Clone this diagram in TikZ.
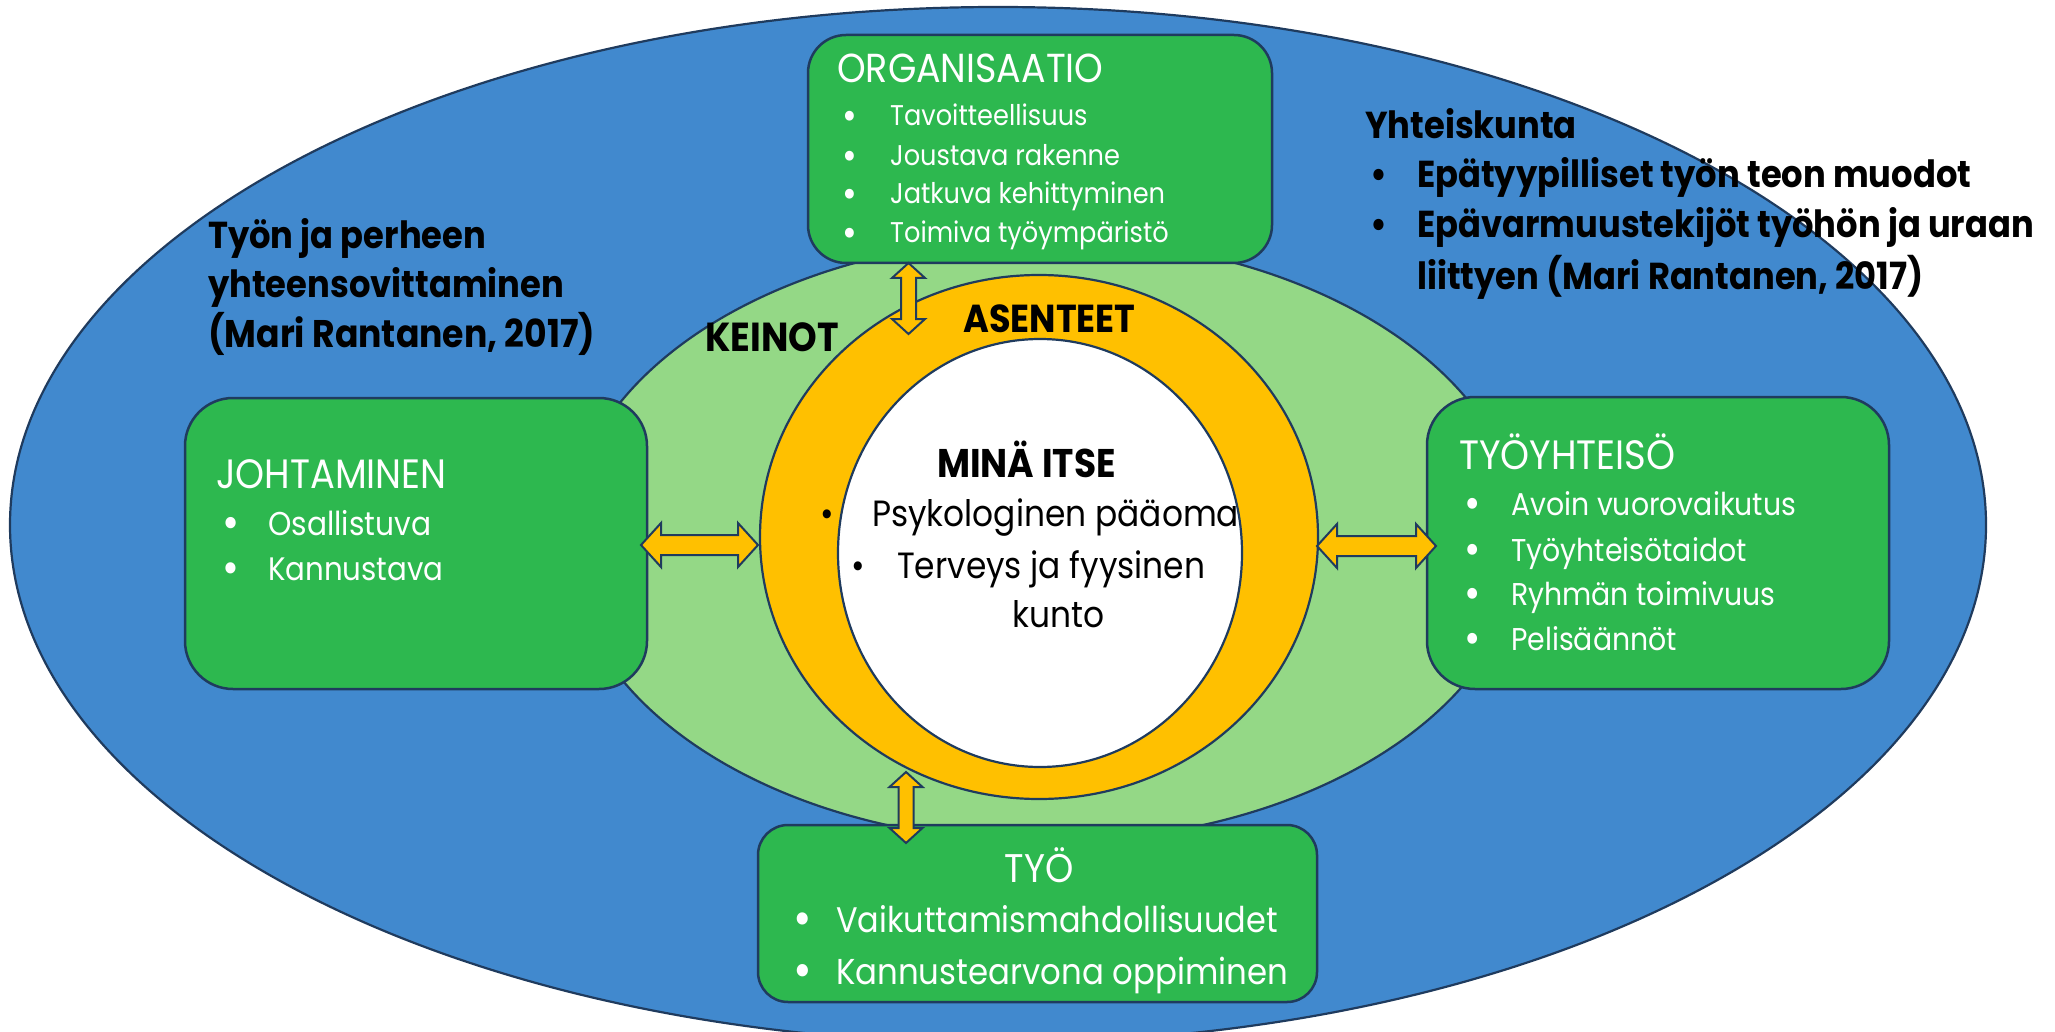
\documentclass[tikz,border=0pt]{standalone}
\usepackage{fontspec}
\setmainfont{Poppins}[FakeStretch=0.9]
\usetikzlibrary{calc,shapes.geometric}
\definecolor{socblue}{HTML}{4189CE}
\definecolor{meansgreen}{HTML}{94D886}
\definecolor{boxgreen}{HTML}{2DB84F}
\definecolor{attgold}{HTML}{FFC000}
\definecolor{edgeblue}{HTML}{1F3B5E}
\newcommand\bul[1]{\makebox[#1pt][l]{•}}
\newcommand\wbul[1]{\makebox[#1pt][l]{\raisebox{-0.11em}{\scalebox{1.4}{•}}}}
\newcommand\fs[1]{\fontsize{#1}{#1}\selectfont}
\newcommand\vdarrow[2]{%
  \draw[blockarrow] (#1) -- ($(#1)+(16.5,15)$) -- ($(#1)+(7.5,15)$) -- ($(#2)+(7.5,-15)$) -- ($(#2)+(16.5,-15)$) -- (#2)
    -- ($(#2)+(-16.5,-15)$) -- ($(#2)+(-7.5,-15)$) -- ($(#1)+(-7.5,15)$) -- ($(#1)+(-16.5,15)$) -- cycle;}
\newcommand\hdarrow[2]{%
  \draw[blockarrow] (#1) -- ($(#1)+(20,-22)$) -- ($(#1)+(20,-10)$) -- ($(#2)+(-20,-10)$) -- ($(#2)+(-20,-22)$) -- (#2)
    -- ($(#2)+(-20,22)$) -- ($(#2)+(-20,10)$) -- ($(#1)+(20,10)$) -- ($(#1)+(20,22)$) -- cycle;}
\begin{document}
\begin{tikzpicture}[x=1pt,y=-1pt,
  oval/.style={ellipse, draw=edgeblue, inner sep=0, line width=2.2pt},
  gbox/.style={draw=edgeblue, fill=boxgreen, line width=2.5pt, inner sep=0},
  blockarrow/.style={draw=edgeblue, fill=attgold, line width=2pt, line join=miter},
  wt/.style={text=white, inner sep=0, anchor=base west},
  bt/.style={text=black, inner sep=0, anchor=base west, font=\bfseries\fs{37.5}},
  ct/.style={text=black, inner sep=0, anchor=base west, font=\fs{36.5}}]
\useasboundingbox (0,0) rectangle (2055,1032);
\clip (0,0) rectangle (2055,1032);
% ellipses
\node[oval, fill=socblue, minimum width=1976pt, minimum height=1036pt] (society) at (998,525) {};
\node[oval, fill=meansgreen, minimum width=954pt, minimum height=604pt] (means) at (1045,540) {};
\node[oval, fill=attgold, minimum width=558pt, minimum height=524pt] (attitudes) at (1039,537) {};
\node[oval, fill=white, minimum width=404pt, minimum height=428pt] (self) at (1040,553) {};
% boxes
\node[gbox, rounded corners=38pt, minimum width=464pt, minimum height=228pt] (org) at (1040,149) {};
\node[gbox, rounded corners=48pt, minimum width=462pt, minimum height=291pt] (lead) at (416,543.5) {};
\node[gbox, rounded corners=48pt, minimum width=462pt, minimum height=292pt] (comm) at (1658,543) {};
\node[gbox, rounded corners=30pt, minimum width=559pt, minimum height=177pt] (work) at (1037.5,913.5) {};
% arrow end points
\coordinate (orgA) at (908.5,263);
\coordinate (orgB) at (908.5,334);
\coordinate (workA) at (906,772);
\coordinate (workB) at (906,843);
\coordinate (leadA) at (641,545);
\coordinate (leadB) at (758,545);
\coordinate (commA) at (1317,546);
\coordinate (commB) at (1436,546);
\vdarrow{orgA}{orgB}
\vdarrow{workA}{workB}
\hdarrow{leadA}{leadB}
\hdarrow{commA}{commB}
% ORGANISAATIO
\node[wt, font=\fs{40.5}] (orgT) at (837,83) {ORGANISAATIO};
\node[wt, font=\fs{28.5}] (org1) at (842,126) {\wbul{48}Tavoitteellisuus};
\node[wt, font=\fs{28.5}] (org2) at (842,166) {\wbul{48}Joustava rakenne};
\node[wt, font=\fs{28.5}] (org3) at (842,204) {\wbul{48}Jatkuva kehittyminen};
\node[wt, font=\fs{28.5}] (org4) at (842,243) {\wbul{48}Toimiva työympäristö};
% JOHTAMINEN
\node[wt, font=\fs{41}] (leadT) at (216,488) {JOHTAMINEN};
\node[wt, font=\fs{33}] (lead1) at (222,535) {\wbul{46}Osallistuva};
\node[wt, font=\fs{32.5}] (lead2) at (222,580) {\wbul{46}Kannustava};
% TYÖYHTEISÖ
\node[wt, font=\fs{41}] (commT) at (1459,469) {TYÖYHTEISÖ};
\node[wt, font=\fs{31.5}] (comm1) at (1464,515) {\wbul{47}Avoin vuorovaikutus};
\node[wt, font=\fs{31.5}] (comm2) at (1464,561) {\wbul{47}Työyhteisötaidot};
\node[wt, font=\fs{31.5}] (comm3) at (1464,605) {\wbul{47}Ryhmän toimivuus};
\node[wt, font=\fs{31.5}] (comm4) at (1464,650) {\wbul{47}Pelisäännöt};
% TYÖ
\node[wt, font=\fs{40}, anchor=base] (workT) at (1039,882) {TYÖ};
\node[wt, font=\fs{35.5}] (work1) at (793,932) {\wbul{43}Vaikuttamismahdollisuudet};
\node[wt, font=\fs{36}] (work2) at (793,984) {\wbul{43}Kannustearvona oppiminen};
% society texts
\node[bt] (socT) at (1365,139) {Yhteiskunta};
\node[bt] (soc1) at (1370,188) {\bul{47}Epätyypilliset työn teon muodot};
\node[bt] (soc2) at (1370,238) {\bul{47}Epävarmuustekijöt työhön ja uraan};
\node[bt] (soc3) at (1417,289) {liittyen (Mari Rantanen, 2017)};
\node[bt] (fam1) at (208,249) {Työn ja perheen};
\node[bt] (fam2) at (208,298) {yhteensovittaminen};
\node[bt, font=\bfseries\fs{38.5}] (fam3) at (208,347) {(Mari Rantanen, 2017)};
% ring labels
\node[bt, font=\bfseries\fs{40.5}] (meansT) at (705,351) {KEINOT};
\node[bt, font=\bfseries\fs{39}] (attT) at (963,332) {ASENTEET};
% self
\node[bt, font=\bfseries\fs{40}] (selfT) at (937,477) {MINÄ ITSE};
\node[ct] (self1) at (820,526) {\bul{52}Psykologinen pääoma};
\node[ct] (self2) at (851,578) {\bul{46}Terveys ja fyysinen};
\node[ct] (self3) at (1012,627) {kunto};
\end{tikzpicture}
\end{document}
